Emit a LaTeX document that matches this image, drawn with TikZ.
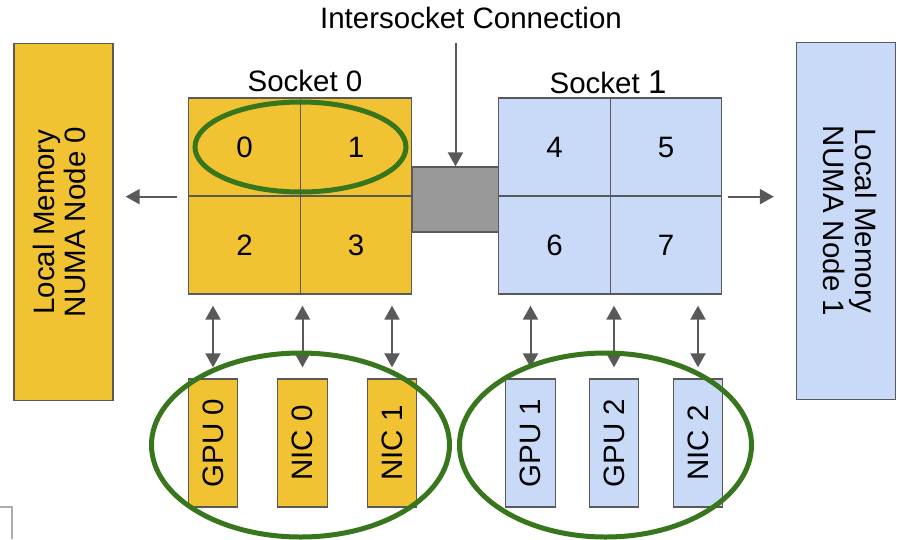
\documentclass[tikz,border=0pt]{standalone}
\usepackage{fontspec}
\setmainfont{Liberation Sans}
\usetikzlibrary{arrows.meta,positioning}
\definecolor{numayellow}{HTML}{F1C232}
\definecolor{numablue}{HTML}{C9DAF8}
\definecolor{linkgray}{HTML}{999999}
\definecolor{edgegray}{HTML}{595959}
\definecolor{ringgreen}{HTML}{38761D}
\tikzset{
  bigfont/.style={font=\fontsize{29.5}{31.5}\selectfont},
  cell/.style={draw=edgegray, line width=1.3pt, minimum width=111.5pt, minimum height=98pt, inner sep=0pt, bigfont},
  membox/.style={draw=edgegray, line width=1.3pt, minimum width=99pt, minimum height=357pt, inner sep=0pt, bigfont},
  devbox/.style={draw=edgegray, line width=1.3pt, minimum width=49.5pt, minimum height=128pt, inner sep=0pt, bigfont},
  conn/.style={draw=edgegray, line width=2pt, -{Triangle[length=14pt,width=15pt]}},
  biconn/.style={conn, {Triangle[length=14pt,width=15pt]}-{Triangle[length=14pt,width=15pt]}, shorten <=11pt, shorten >=11pt},
  ring/.style={draw=ringgreen, line width=5pt},
}
\begin{document}
\begin{tikzpicture}[x=1pt,y=-1pt]
\useasboundingbox (0,0) rectangle (897,539);

% memory of the two NUMA nodes
\node[membox, fill=numayellow] (mem0) at (63.5,222)
  {\rotatebox{90}{\begin{tabular}{@{}c@{}}Local Memory\\NUMA Node 0\end{tabular}}};
\node[membox, fill=numablue] (mem1) at (846,221)
  {\rotatebox{-90}{\begin{tabular}{@{}c@{}}Local Memory\\NUMA Node 1\end{tabular}}};

% link between sockets
\node[draw=edgegray, line width=1.3pt, fill=linkgray, minimum width=87pt, minimum height=65pt, inner sep=0pt] (link) at (455.5,199.5) {};

% socket 0
\node[cell, fill=numayellow] (c0) at (244.5,147) {0};
\node[cell, fill=numayellow] (c1) at (356,147) {1};
\node[cell, fill=numayellow] (c2) at (244.5,245) {2};
\node[cell, fill=numayellow] (c3) at (356,245) {3};
% socket 1
\node[cell, fill=numablue] (c4) at (554.5,147) {4};
\node[cell, fill=numablue] (c5) at (666,147) {5};
\node[cell, fill=numablue] (c6) at (554.5,245) {6};
\node[cell, fill=numablue] (c7) at (666,245) {7};

\node[bigfont, inner sep=0pt] (s0label) at (305,81) {Socket 0};
\node[bigfont, inner sep=0pt] (s1label) at (608,82) {Socket {\fontsize{33}{33}\selectfont 1}};
\node[bigfont, inner sep=0pt] (ilabel) at (471,18) {Intersocket Connection};

% devices
\node[devbox, fill=numayellow] (gpu0) at (213,443) {\rotatebox{90}{GPU 0}};
\node[devbox, fill=numayellow] (nic0) at (302.5,443) {\rotatebox{90}{NIC 0}};
\node[devbox, fill=numayellow] (nic1) at (392,443) {\rotatebox{90}{NIC 1}};
\node[devbox, fill=numablue] (gpu1) at (530.5,443) {\rotatebox{90}{GPU 1}};
\node[devbox, fill=numablue] (gpu2) at (614,443) {\rotatebox{90}{GPU 2}};
\node[devbox, fill=numablue] (nic2) at (698,443) {\rotatebox{90}{NIC 2}};

% arrows
\draw[conn, shorten <=14pt] (ilabel.south -| link.north) -- (link.north);
\draw[conn, shorten <=11pt, shorten >=12pt] (c0.south west) -- (c0.south west -| mem0.east);
\draw[conn, shorten <=6pt, shorten >=22pt] (c5.south east) -- (c5.south east -| mem1.west);
\foreach \dev/\cel in {gpu0/c2, nic0/c2, nic1/c3, gpu1/c6, gpu2/c6, nic2/c7}
  \draw[biconn] (\dev.north) -- (\dev.north |- \cel.south);

% groups
\draw[ring] (300.5,147) ellipse [x radius=105.5pt, y radius=45pt];
\draw[ring] (300.5,445) ellipse [x radius=149pt, y radius=92pt];
\draw[ring] (605.5,445) ellipse [x radius=146pt, y radius=92pt];

\draw[draw=linkgray!80, line width=2pt] (0,507) -- (12,507) -- (12,539);
\end{tikzpicture}
\end{document}
